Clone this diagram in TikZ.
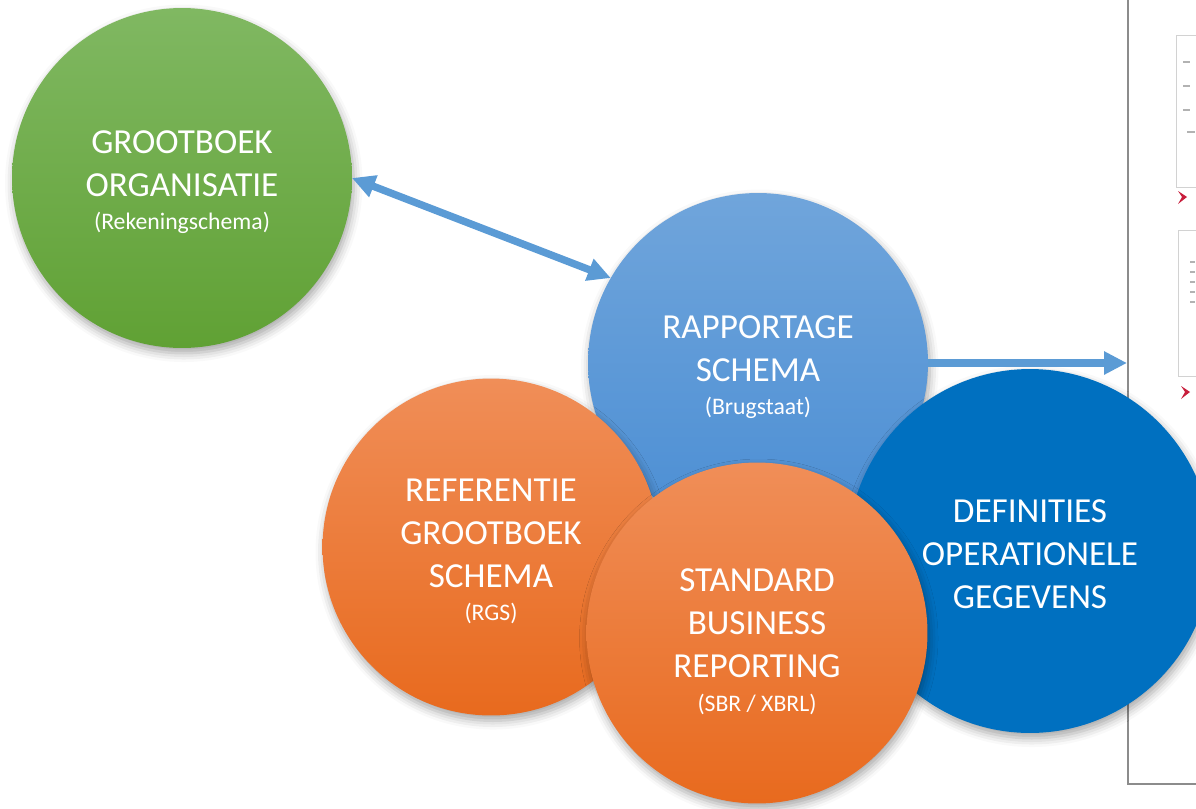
\documentclass[tikz,border=0pt]{standalone}
\usepackage{fontspec}
\setmainfont{Carlito}
\usetikzlibrary{arrows.meta,shadows.blur}

\definecolor{linkblue}{HTML}{5B9BD5}
\definecolor{framegray}{HTML}{8C8C8C}
\definecolor{greentop}{RGB}{128,184,98}
\definecolor{greenbot}{RGB}{96,161,52}
\definecolor{bluetop}{RGB}{112,165,219}
\definecolor{bluebot}{RGB}{75,142,212}
\definecolor{orangetop}{RGB}{240,142,88}
\definecolor{orangebot}{RGB}{232,106,30}
\definecolor{darkblue}{RGB}{0,112,192}
\definecolor{markred}{RGB}{200,30,60}
\newcommand{\subline}[1]{{\fontsize{13.5}{16}\selectfont #1}}

\begin{document}
\begin{tikzpicture}[x=0.02cm,y=-0.02cm,
  bubble/.style={circle,inner sep=0pt,outer sep=0pt,
    blur shadow={shadow xshift=1pt,shadow yshift=-3pt,shadow blur radius=5pt,shadow opacity=35}},
  caption/.style={text=white,align=center,inner sep=0pt,font=\fontsize{20}{24.5}\selectfont},
  link/.style={line width=4.2pt,linkblue,>={Triangle[length=0.46cm,width=0.44cm]}}]
\useasboundingbox (0,0) rectangle (1196,808);

% screenshot on the right
\draw[line width=1.1pt,framegray] (1128,0)--(1128,784)--(1196,784);
\draw[gray!35] (1176,35) rectangle (1200,187);
\draw[gray!35] (1178,230) rectangle (1200,376);
\foreach \y in {62,86,110}
  \draw[gray!60,line width=1pt] (1183,\y)--(1190,\y);
\draw[gray!60,line width=1pt] (1187,132)--(1195,132);
\foreach \y in {262,272,282,292,302}
  \draw[gray!60,line width=1pt] (1190,\y)--(1195,\y);
\fill[markred] (1178,191)--(1187,197)--(1178,204)--(1182,197)--cycle;
\fill[markred] (1181,386)--(1190,392)--(1181,399)--(1185,392)--cycle;

% circles
\node[bubble,minimum size=6.8cm,top color=greentop,bottom color=greenbot] (ledger) at (182,178) {};
\node[bubble,minimum size=6.8cm,top color=bluetop,bottom color=bluebot] (report) at (758,363) {};
\node[bubble,minimum size=7.28cm,fill=darkblue] (defs) at (1030,551) {};
\node[bubble,minimum size=6.74cm,top color=orangetop,bottom color=orangebot] (rgs) at (491,547) {};
\node[bubble,minimum size=6.82cm,top color=orangetop,bottom color=orangebot] (sbr) at (757,633) {};

% texts
\node[caption] (ledger-txt) at ([yshift=-2.5pt]ledger.center) {GROOTBOEK\\ORGANISATIE\\[-5.5pt]\subline{(Rekeningschema)}};
\node[caption] (report-txt) at ([yshift=-2.5pt]report.center) {RAPPORTAGE\\SCHEMA\\[-5.5pt]\subline{(Brugstaat)}};
\node[caption] (defs-txt) at ([yshift=-2pt]defs.center) {DEFINITIES\\OPERATIONELE\\GEGEVENS};
\node[caption] (rgs-txt) at ([yshift=-2.5pt]rgs.center) {REFERENTIE\\GROOTBOEK\\SCHEMA\\[-5.5pt]\subline{(RGS)}};
\node[caption] (sbr-txt) at ([yshift=-5pt]sbr.center) {STANDARD\\BUSINESS\\REPORTING\\[-5.5pt]\subline{(SBR / XBRL)}};

\coordinate (shot) at (1127,363);

% arrows
\draw[link,<->] (ledger.east)--(report.150);
\draw[link,->] (report.east)--(shot);
\end{tikzpicture}
\end{document}
